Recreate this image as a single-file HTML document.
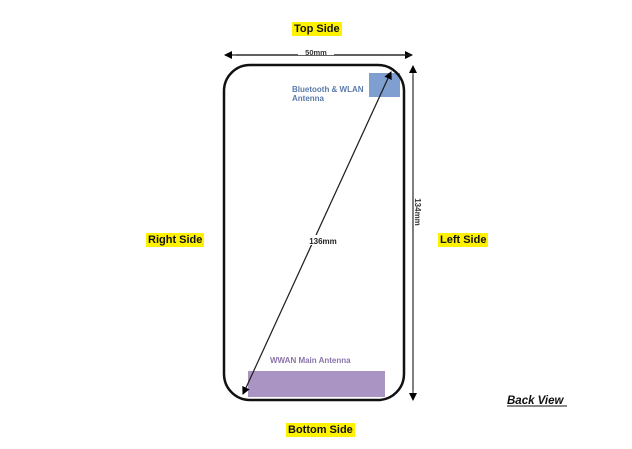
<!DOCTYPE html>
<html><head><style>
html,body{margin:0;padding:0;background:#fff;}
body{width:632px;height:449px;overflow:hidden;position:relative;font-family:"Liberation Sans",sans-serif;}
.hl{position:absolute;background:#fff200;font-weight:bold;font-size:11px;padding:0 2px;line-height:14px;color:#111;}
</style></head><body>
<svg width="632" height="449" style="position:absolute;left:0;top:0">
<defs><marker id="a" markerWidth="8" markerHeight="8" refX="7" refY="4" orient="auto" markerUnits="userSpaceOnUse"><path d="M0,0 L8,4 L0,8 z" fill="#000"/></marker></defs>
<rect x="248" y="371" width="137" height="26" fill="#a994c4"/>
<rect x="369" y="73" width="31" height="24" fill="#7e9fcf"/>
<rect x="224" y="65" width="180" height="335" rx="26" ry="26" fill="none" stroke="#111" stroke-width="2.5"/>
<line x1="236" y1="55" x2="412" y2="55" stroke="#222" stroke-width="1.2" marker-end="url(#a)"/>
<line x1="412" y1="55" x2="225" y2="55" stroke="#222" stroke-width="1.2" marker-end="url(#a)"/>
<line x1="413" y1="390" x2="413" y2="66" stroke="#444" stroke-width="1.2" marker-end="url(#a)"/>
<line x1="413" y1="75" x2="413" y2="400" stroke="#444" stroke-width="1.2" marker-end="url(#a)"/>
<line x1="246" y1="388" x2="391" y2="72" stroke="#222" stroke-width="1" marker-end="url(#a)"/>
<line x1="388" y1="78" x2="243" y2="394" stroke="#222" stroke-width="1" marker-end="url(#a)"/>
<rect x="305" y="235" width="36" height="10" fill="#fff"/>
<text x="323" y="244" font-size="8" font-weight="bold" text-anchor="middle" font-family="Liberation Sans" fill="#222">136mm</text>
<rect x="298" y="49" width="36" height="6" fill="#fff"/>
<text x="316" y="55" font-size="7.5" font-weight="bold" text-anchor="middle" font-family="Liberation Sans" fill="#333">50mm</text>
<text transform="translate(415,212) rotate(90)" font-size="8" font-weight="bold" text-anchor="middle" font-family="Liberation Sans" fill="#333">134mm</text>
<text x="292" y="92" font-size="8" font-weight="bold" font-family="Liberation Sans" fill="#5a7aaa">Bluetooth &amp; WLAN</text>
<text x="292" y="101" font-size="8" font-weight="bold" font-family="Liberation Sans" fill="#5a7aaa">Antenna</text>
<text x="270" y="363" font-size="8" font-weight="bold" font-family="Liberation Sans" fill="#8a74aa">WWAN Main Antenna</text>
<text x="507" y="404" font-size="11.5" font-weight="bold" font-style="italic" font-family="Liberation Sans" fill="#111">Back View</text>
<line x1="507" y1="406" x2="567" y2="406" stroke="#111" stroke-width="1"/>
</svg>
<div class="hl" style="left:292px;top:22px;">Top Side</div>
<div class="hl" style="left:146px;top:233px;">Right Side</div>
<div class="hl" style="left:438px;top:233px;">Left Side</div>
<div class="hl" style="left:286px;top:423px;">Bottom Side</div>
</body></html>
